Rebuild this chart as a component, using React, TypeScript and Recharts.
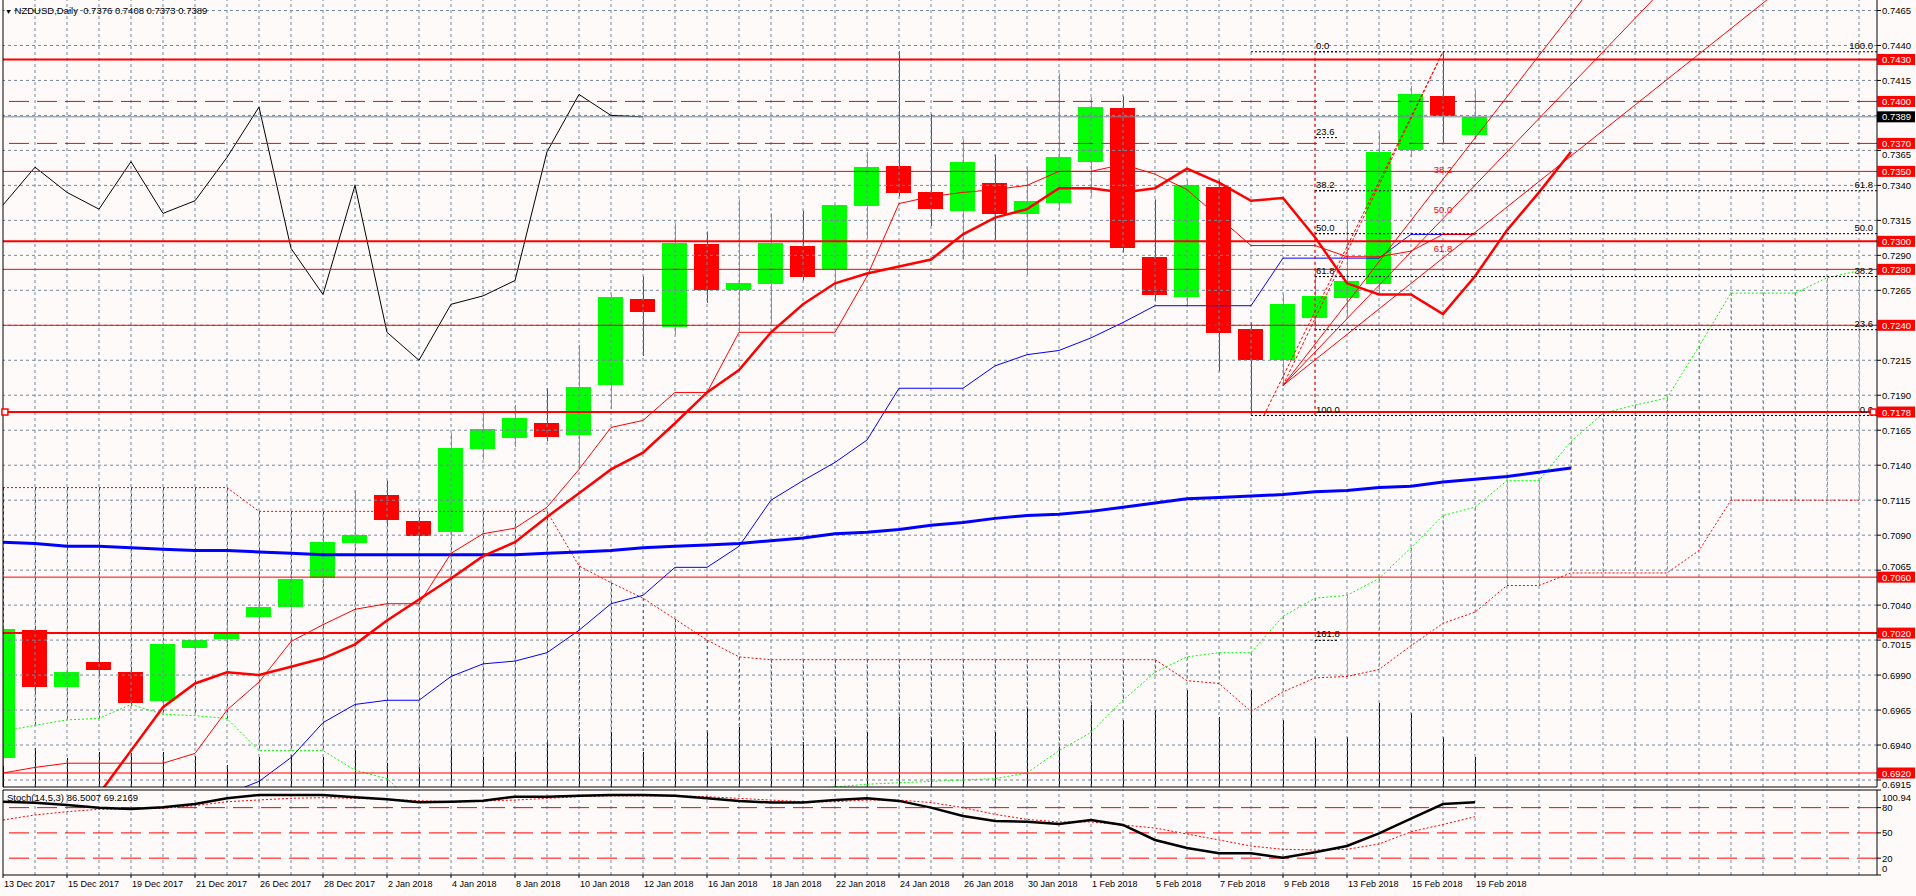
import React from 'react';
import { ComposedChart, Line, Bar, XAxis, YAxis, ReferenceLine, ReferenceDot } from 'recharts';

// ---------------- data ----------------
const dates = [
  '13 Dec 2017', '14 Dec 2017', '15 Dec 2017', '18 Dec 2017', '19 Dec 2017', '20 Dec 2017', '21 Dec 2017', '22 Dec 2017',
  '26 Dec 2017', '27 Dec 2017', '28 Dec 2017', '29 Dec 2017', '2 Jan 2018', '3 Jan 2018', '4 Jan 2018', '5 Jan 2018',
  '8 Jan 2018', '9 Jan 2018', '10 Jan 2018', '11 Jan 2018', '12 Jan 2018', '15 Jan 2018', '16 Jan 2018', '17 Jan 2018',
  '18 Jan 2018', '19 Jan 2018', '22 Jan 2018', '23 Jan 2018', '24 Jan 2018', '25 Jan 2018', '26 Jan 2018', '29 Jan 2018',
  '30 Jan 2018', '31 Jan 2018', '1 Feb 2018', '2 Feb 2018', '5 Feb 2018', '6 Feb 2018', '7 Feb 2018', '8 Feb 2018',
  '9 Feb 2018', '12 Feb 2018', '13 Feb 2018', '14 Feb 2018', '15 Feb 2018', '16 Feb 2018', '19 Feb 2018',
];

const opens = [0.6931, 0.7022, 0.6981, 0.6999, 0.6992, 0.6971, 0.7009, 0.7016, 0.7032, 0.7039, 0.7059, 0.7084, 0.7119, 0.7100, 0.7092, 0.7152, 0.7160, 0.7170, 0.7162, 0.7197, 0.7259, 0.7239, 0.7298, 0.7265, 0.7270, 0.7297, 0.7280, 0.7325, 0.7354, 0.7335, 0.7322, 0.7342, 0.7320, 0.7327, 0.7357, 0.7395, 0.7289, 0.7260, 0.7339, 0.7237, 0.7215, 0.7245, 0.7260, 0.7270, 0.7365, 0.7404, 0.7376];
const highs = [0.7025, 0.7024, 0.6995, 0.7028, 0.6996, 0.7013, 0.7017, 0.7027, 0.7041, 0.7061, 0.7088, 0.7122, 0.7129, 0.7103, 0.7163, 0.7179, 0.7183, 0.7195, 0.7226, 0.7262, 0.7275, 0.7313, 0.7307, 0.7330, 0.7320, 0.7322, 0.7326, 0.7364, 0.7436, 0.7391, 0.7373, 0.7362, 0.7353, 0.7420, 0.7403, 0.7404, 0.7330, 0.7344, 0.7344, 0.7242, 0.7262, 0.7280, 0.7314, 0.7378, 0.7411, 0.7436, 0.7408];
const lows = [0.6925, 0.6978, 0.6978, 0.6990, 0.6968, 0.6968, 0.7005, 0.7013, 0.7029, 0.7036, 0.7055, 0.7082, 0.7098, 0.7086, 0.7088, 0.7144, 0.7153, 0.7157, 0.7138, 0.7180, 0.7218, 0.7233, 0.7256, 0.7235, 0.7242, 0.7272, 0.7265, 0.7302, 0.7332, 0.7311, 0.7287, 0.7301, 0.7276, 0.7322, 0.7332, 0.7292, 0.7257, 0.7254, 0.7207, 0.7176, 0.7197, 0.7236, 0.7246, 0.7262, 0.7360, 0.7370, 0.7373];
const closes = [0.7023, 0.6981, 0.6992, 0.6993, 0.6970, 0.7012, 0.7015, 0.7020, 0.7039, 0.7059, 0.7085, 0.7090, 0.7101, 0.7089, 0.7152, 0.7166, 0.7174, 0.7160, 0.7196, 0.7260, 0.7250, 0.7299, 0.7265, 0.7270, 0.7299, 0.7275, 0.7326, 0.7353, 0.7335, 0.7323, 0.7357, 0.7320, 0.7329, 0.7360, 0.7396, 0.7295, 0.7262, 0.7340, 0.7235, 0.7215, 0.7255, 0.7261, 0.7272, 0.7364, 0.7405, 0.7390, 0.7389];

// thick red moving average (shifted forward)
const maFast = [null, null, null, 0.6905, 0.6936, 0.6967, 0.6984, 0.6992, 0.6990, 0.6996, 0.7002, 0.7012, 0.7029, 0.7044, 0.7059, 0.7075, 0.7085, 0.7103, 0.7120, 0.7137, 0.7149, 0.7170, 0.7192, 0.7208, 0.7235, 0.7255, 0.7270, 0.7277, 0.7282, 0.7287, 0.7305, 0.7317, 0.7323, 0.7338, 0.7338, 0.7335, 0.7338, 0.7352, 0.7342, 0.7329, 0.7331, 0.7303, 0.7270, 0.7262, 0.7262, 0.7248, 0.7275, 0.7308, 0.7335, 0.7364];
// thick blue moving average (shifted forward)
const maSlow = [0.7085, 0.7084, 0.7082, 0.7082, 0.7081, 0.7080, 0.7079, 0.7079, 0.7078, 0.7077, 0.7076, 0.7076, 0.7076, 0.7076, 0.7076, 0.7076, 0.7076, 0.7077, 0.7078, 0.7079, 0.7081, 0.7082, 0.7083, 0.7084, 0.7086, 0.7088, 0.7091, 0.7092, 0.7094, 0.7097, 0.7099, 0.7102, 0.7104, 0.7105, 0.7107, 0.7110, 0.7113, 0.7116, 0.7117, 0.7118, 0.7119, 0.7121, 0.7122, 0.7124, 0.7125, 0.7128, 0.7130, 0.7132, 0.7135, 0.7138];
// Ichimoku
const tenkan = [0.6920, 0.6924, 0.6927, 0.6927, 0.6927, 0.6927, 0.6934, 0.6965, 0.6985, 0.7014, 0.7026, 0.7037, 0.7041, 0.7041, 0.7077, 0.7091, 0.7095, 0.7110, 0.7137, 0.7167, 0.7172, 0.7192, 0.7192, 0.7235, 0.7235, 0.7235, 0.7235, 0.7275, 0.7327, 0.7332, 0.7335, 0.7337, 0.7340, 0.7350, 0.7350, 0.7355, 0.7348, 0.7337, 0.7317, 0.7297, 0.7297, 0.7297, 0.7289, 0.7289, 0.7293, 0.7305, 0.7305];
const kijun = [null, null, null, null, null, null, null, 0.6905, 0.6914, 0.6931, 0.6956, 0.6969, 0.6972, 0.6972, 0.6989, 0.6998, 0.7000, 0.7006, 0.7022, 0.7041, 0.7047, 0.7067, 0.7067, 0.7082, 0.7115, 0.7129, 0.7142, 0.7158, 0.7195, 0.7195, 0.7195, 0.7211, 0.7219, 0.7222, 0.7231, 0.7242, 0.7254, 0.7254, 0.7254, 0.7254, 0.7288, 0.7288, 0.7288, 0.7288, 0.7305, 0.7305, 0.7305];
const spanA = [0.6950, 0.6954, 0.6958, 0.6959, 0.6969, 0.6962, 0.6961, 0.6959, 0.6936, 0.6936, 0.6936, 0.6922, 0.6916, 0.6895, 0.6890, 0.6890, 0.6890, 0.6890, 0.6892, 0.6895, 0.6898, 0.6900, 0.6903, 0.6905, 0.6907, 0.6909, 0.6910, 0.6912, 0.6913, 0.6914, 0.6915, 0.6916, 0.6920, 0.6936, 0.6949, 0.6972, 0.6992, 0.7003, 0.7006, 0.7006, 0.7032, 0.7045, 0.7047, 0.7059, 0.7081, 0.7104, 0.7110, 0.7129, 0.7129, 0.7157, 0.7177, 0.7183, 0.7188, 0.7225, 0.7263, 0.7263, 0.7263, 0.7274, 0.7279];
const spanB = [0.7124, 0.7124, 0.7124, 0.7124, 0.7124, 0.7124, 0.7124, 0.7124, 0.7107, 0.7107, 0.7107, 0.7107, 0.7107, 0.7107, 0.7107, 0.7107, 0.7107, 0.7107, 0.7068, 0.7056, 0.7045, 0.7030, 0.7015, 0.7003, 0.7001, 0.7001, 0.7001, 0.7001, 0.7001, 0.7001, 0.7001, 0.7001, 0.7001, 0.7001, 0.7001, 0.7001, 0.7001, 0.6986, 0.6984, 0.6964, 0.6978, 0.6988, 0.6989, 0.6994, 0.7011, 0.7027, 0.7035, 0.7054, 0.7054, 0.7063, 0.7063, 0.7063, 0.7063, 0.7079, 0.7115, 0.7115, 0.7115, 0.7115, 0.7115];
const CHIKOU_SHIFT = 26;
const volumes = [135, 195, 145, 175, 170, 175, 155, 110, 150, 160, 150, 185, 120, 100, 195, 150, 175, 225, 250, 275, 175, 225, 275, 300, 200, 225, 250, 275, 350, 250, 225, 275, 395, 200, 410, 335, 385, 485, 350, 485, 335, 245, 250, 420, 370, 250, 150];
// Stochastic (14,5,3)
const stochMain = [87.0, 85.9, 83.1, 79.9, 78.4, 80.4, 84.3, 91.1, 95.0, 95.0, 95.0, 92.3, 89.9, 86.3, 87.0, 88.2, 93, 93, 94, 95, 95, 94, 91, 88, 86, 86, 89, 91, 88, 80, 70, 64, 63.3, 60.6, 65.3, 59.4, 41.6, 32, 25.8, 25.8, 20.5, 27, 34.4, 49.5, 67, 84.3, 86.5007];
const stochSignal = [65.3, 71.3, 75.2, 78, 78.4, 79.2, 82.3, 87, 89.1, 91.1, 91.8, 91.1, 89.9, 88.2, 87, 87.9, 89, 91, 93, 94, 94, 94, 93, 91, 89, 87, 87, 89, 89, 86, 80, 72, 66, 63, 63, 59.4, 55.8, 48.7, 41.6, 34.4, 30.5, 29.7, 30.5, 36.8, 51.4, 60, 69.2169];
const stochLevels = [80, 50, 20];
const stochTicks = [100.94, 80, 50, 20, 0];

// price axis
const priceTicks = [0.7465, 0.7440, 0.7415, 0.7390, 0.7365, 0.7340, 0.7315, 0.7290, 0.7265, 0.7240, 0.7215, 0.7190, 0.7165, 0.7140, 0.7115, 0.7090, 0.7065, 0.7040, 0.7015, 0.6990, 0.6965, 0.6940, 0.6915];
const hiddenTickLabels = [0.7390, 0.7240];
// horizontal level lines
const thickLevels = [0.7430, 0.7300, 0.7178, 0.7020];
const thinLevels = [0.7350, 0.7280, 0.7240, 0.7060, 0.6920];
const dashedLevels = [0.7400, 0.7370];
const currentPrice = closes[closes.length - 1];
const markedLevel = 0.7178;

// Fibonacci retracement & fan
const fibHigh = 0.74355;
const fibLow = 0.71755;
const fibRightLevels = [0, 23.6, 38.2, 50.0, 61.8, 100.0];
const fibLeftLevels = [0.0, 23.6, 38.2, 50.0, 61.8, 100.0, 161.8];
const fibLeftBar = 41;
const fibStartBar = 39;
const fanOriginBar = 40;
const fanOriginPrice = 0.7197;
const fanTopBar = 45;
const fanLevels = [38.2, 50.0, 61.8];

// ---------------- layout constants ----------------
const X_MAX = 58.5625;
const P_MIN = 0.6910;
const P_MAX = 0.74725;
const PLOT_H = 787;
const PX_PER_PRICE = PLOT_H / (P_MAX - P_MIN);
const FONT = "'Liberation Sans', Arial, sans-serif";
const GRID = '#778899';
const RED = '#ff0000';
const GREEN = '#00ff00';
const BG = '#fffafa';

const nBars = dates.length;
const rows = spanA.map((a, i) => {
  const b = spanB[i];
  const r: any = {
    i,
    spanA: a,
    spanB: b,
    cloud: [Math.min(a, b), Math.max(a, b)],
    cloudUp: a >= b,
    maFast: i < maFast.length ? maFast[i] : null,
    maSlow: i < maSlow.length ? maSlow[i] : null,
    tenkan: i < tenkan.length ? tenkan[i] : null,
    kijun: i < kijun.length ? kijun[i] : null,
    chikou: i + CHIKOU_SHIFT < nBars ? closes[i + CHIKOU_SHIFT] : null,
  };
  if (i < nBars) {
    r.candle = [lows[i], highs[i]];
    r.o = opens[i];
    r.h = highs[i];
    r.l = lows[i];
    r.c = closes[i];
    r.vol = volumes[i];
  }
  return r;
});
const stochRows = dates.map((d, i) => ({ i, date: d, k: stochMain[i], d: stochSignal[i] }));
const gridBars = Array.from({ length: Math.floor(X_MAX) }, (_, k) => k + 1);
const dateTicks = dates.map((_, i) => i).filter((i) => i % 2 === 0);

const key4 = (v: number) => v.toFixed(4);
const boxLevels = [...thickLevels, ...thinLevels, ...dashedLevels, currentPrice];
const redBoxSet = new Set([...thickLevels, ...thinLevels, ...dashedLevels].map(key4));
const axisTicks = [
  ...priceTicks.filter((t) => !hiddenTickLabels.includes(t)),
  ...thickLevels, ...thinLevels, ...dashedLevels, currentPrice,
];

// ---------------- shapes ----------------
const CandleShape = (props: any) => {
  const { x, y, width, height, payload } = props;
  if (!payload || payload.o == null || !isFinite(y) || !isFinite(height)) return null;
  const top = Math.min(y, y + height);
  const hpx = Math.abs(height);
  const { o, h, l, c } = payload;
  const k = h - l > 0 ? hpx / (h - l) : 0;
  const yO = top + (h - o) * k;
  const yC = top + (h - c) * k;
  const col = c >= o ? GREEN : RED;
  const cx = Math.round(x + width / 2) + 0.5;
  const bTop = Math.round(Math.min(yO, yC));
  const bH = Math.max(1, Math.round(Math.abs(yO - yC)));
  return (
    <g>
      <line x1={cx} x2={cx} y1={top} y2={top + hpx} stroke={col} strokeWidth={1} />
      <rect x={Math.round(x)} y={bTop} width={Math.round(width)} height={bH} fill={col} />
    </g>
  );
};

const HatchShape = (props: any) => {
  const { x, y, width, height, payload } = props;
  if (!payload || !isFinite(y) || !isFinite(height)) return null;
  const cx = Math.round(x + width / 2) + 0.5;
  const top = Math.min(y, y + height);
  return (
    <line x1={cx} x2={cx} y1={top} y2={top + Math.abs(height)} stroke={payload.cloudUp ? GREEN : RED}
      strokeWidth={1} strokeDasharray="3 3" />
  );
};

const VolShape = (props: any) => {
  const { x, y, width, height, payload } = props;
  if (!payload || payload.vol == null || !isFinite(y) || !isFinite(height)) return null;
  const cx = Math.round(x + width / 2) + 0.5;
  const top = Math.min(y, y + height);
  return <line x1={cx} x2={cx} y1={top} y2={top + Math.abs(height)} stroke="#000" strokeWidth={1} />;
};

const PriceTick = (props: any) => {
  const { x, y, payload } = props;
  const v = payload.value as number;
  const kk = key4(v);
  if (v === currentPrice || redBoxSet.has(kk)) {
    const bg = v === currentPrice ? '#000' : RED;
    return (
      <g>
        <rect x={x - 5} y={y - 5.5} width={38} height={11} fill={bg} />
        <text x={x} y={y + 3.5} fill="#fff" fontSize={9.5} fontFamily={FONT}>{kk}</text>
      </g>
    );
  }
  // keep plain tick labels clear of the level boxes that sit right next to them
  let dy = 0;
  boxLevels.forEach((b) => {
    const dpx = (b - v) * PX_PER_PRICE; // >0 : box above the tick
    if (Math.abs(dpx) < 11) dy = dpx > 0 ? 11 - dpx : -(11 + dpx);
  });
  return <text x={x} y={y + dy + 3.5} fill="#000" fontSize={9.5} fontFamily={FONT}>{kk}</text>;
};

const StochTick = (props: any) => {
  const { x, y, payload } = props;
  const v = payload.value as number;
  const dy = v === 100.94 ? 7 : v === 0 ? -7 : 0;
  return <text x={x} y={y + dy + 3.5} fill="#000" fontSize={9.5} fontFamily={FONT}>{String(v)}</text>;
};

const DateTick = (props: any) => {
  const { x, y, payload } = props;
  return <text x={x + 1} y={y + 9} fill="#000" fontSize={9} fontFamily={FONT}>{dates[payload.value]}</text>;
};

const fibPrice = (pct: number, fromTop: boolean) =>
  fromTop ? fibHigh - (pct / 100) * (fibHigh - fibLow) : fibLow + (pct / 100) * (fibHigh - fibLow);

const rightFibLabel = (text: string) => (p: any) => {
  const vb = p.viewBox || {};
  return <text x={vb.x + vb.width - 4} y={vb.y - 3} textAnchor="end" fill="#000" fontSize={9.5} fontFamily={FONT}>{text}</text>;
};
const leftFibLabel = (text: string) => (p: any) => {
  const vb = p.viewBox || {};
  return <text x={vb.x + 1} y={vb.y - 3} fill="#000" fontSize={9.5} fontFamily={FONT}>{text}</text>;
};
const fanLabel = (text: string) => (p: any) => {
  const vb = p.viewBox || {};
  const cx = vb.x + (vb.width || 0) / 2;
  const cy = vb.y + (vb.height || 0) / 2;
  return <text x={cx} y={cy - 6} textAnchor="middle" fill={RED} fontSize={9.5} fontFamily={FONT}>{text}</text>;
};
const squareMarker = (p: any) => (
  <rect x={p.cx - 3} y={p.cy - 3} width={6} height={6} fill="#fff" stroke={RED} strokeWidth={1.5} />
);

const AX = { xAxisId: 'c', yAxisId: 'p' } as const;

export default function App() {
  const fanRange = fibHigh - fanOriginPrice;
  return (
    <div style={{ position: 'absolute', left: 0, top: 0, width: 1916, height: 896, background: BG, overflow: 'hidden' }}>
      <div style={{ position: 'absolute', left: 0, top: 788 }}>
        <ComposedChart width={1916} height={108} data={stochRows} margin={{ top: 2, right: 0, bottom: 0, left: 3 }}>
          <XAxis xAxisId="c" dataKey="i" type="number" domain={[0, X_MAX]} allowDataOverflow ticks={dateTicks}
            interval={0} height={21} tick={<DateTick />} tickSize={3} tickMargin={0}
            tickLine={{ stroke: '#000' }} axisLine={{ stroke: '#000' }} />
          <YAxis yAxisId="s" orientation="right" width={39} type="number" domain={[0, 100.94]} allowDataOverflow
            ticks={stochTicks} interval={0} tick={<StochTick />} tickSize={4} tickMargin={1}
            tickLine={{ stroke: '#000' }} axisLine={{ stroke: '#000' }} />
          {gridBars.map((b) => (
            <ReferenceLine key={'sg' + b} xAxisId="c" yAxisId="s" x={b} stroke={GRID} strokeDasharray="3 3" />
          ))}
          {stochLevels.map((l) => (
            <ReferenceLine key={'sl' + l} xAxisId="c" yAxisId="s" y={l} stroke={RED} strokeDasharray="20 8" />
          ))}
          <Line xAxisId="c" yAxisId="s" dataKey="d" stroke={RED} strokeWidth={1} strokeDasharray="2 2" dot={false} isAnimationActive={false} />
          <Line xAxisId="c" yAxisId="s" dataKey="k" stroke="#000" strokeWidth={2.5} dot={false} isAnimationActive={false} />
          <ReferenceLine xAxisId="c" yAxisId="s" x={0} stroke="#000" />
          <ReferenceLine xAxisId="c" yAxisId="s" y={100.94} stroke="#000" />
        </ComposedChart>
      </div>

      <div style={{ position: 'absolute', left: 0, top: 0 }}>
        <ComposedChart width={1916} height={PLOT_H + 5} data={rows} margin={{ top: 0, right: 0, bottom: 5, left: 3 }}>
          <XAxis xAxisId="c" dataKey="i" type="number" domain={[0, X_MAX]} allowDataOverflow hide />
          <XAxis xAxisId="h" dataKey="i" type="number" domain={[0, X_MAX]} allowDataOverflow hide />
          <XAxis xAxisId="v" dataKey="i" type="number" domain={[0, X_MAX]} allowDataOverflow hide />
          <YAxis yAxisId="p" orientation="right" width={39} type="number" domain={[P_MIN, P_MAX]} allowDataOverflow
            ticks={axisTicks} interval={0} tick={<PriceTick />} tickSize={4} tickMargin={1}
            tickLine={{ stroke: '#000' }} axisLine={{ stroke: '#000' }} />
          <YAxis yAxisId="vol" type="number" domain={[0, 3935]} allowDataOverflow hide />

          {gridBars.map((b) => (
            <ReferenceLine key={'gv' + b} {...AX} x={b} stroke={GRID} strokeDasharray="3 3" />
          ))}
          {priceTicks.map((t) => (
            <ReferenceLine key={'gh' + t} {...AX} y={t} stroke={GRID} strokeDasharray="3 3" />
          ))}

          <Bar xAxisId="h" yAxisId="p" dataKey="cloud" barSize={1} shape={HatchShape} isAnimationActive={false} />
          <Bar xAxisId="v" yAxisId="vol" dataKey="vol" barSize={1} shape={VolShape} isAnimationActive={false} />

          <Line {...AX} dataKey="spanA" stroke={GREEN} strokeWidth={1} strokeDasharray="2 2" dot={false} isAnimationActive={false} />
          <Line {...AX} dataKey="spanB" stroke={RED} strokeWidth={1} strokeDasharray="2 2" dot={false} isAnimationActive={false} />
          <Line {...AX} dataKey="maSlow" stroke="#0000ff" strokeWidth={3} dot={false} isAnimationActive={false} />
          <Line {...AX} dataKey="kijun" stroke="#0000ff" strokeWidth={1} dot={false} isAnimationActive={false} />
          <Line {...AX} dataKey="tenkan" stroke={RED} strokeWidth={1} dot={false} isAnimationActive={false} />
          <Line {...AX} dataKey="chikou" stroke="#000" strokeWidth={1} dot={false} isAnimationActive={false} />
          <Line {...AX} dataKey="maFast" stroke={RED} strokeWidth={2.5} dot={false} isAnimationActive={false} />

          <Bar {...AX} dataKey="candle" barSize={25} shape={CandleShape} isAnimationActive={false} />

          <ReferenceLine {...AX} y={currentPrice} stroke={GRID} strokeWidth={1} />
          {thinLevels.map((p) => (
            <ReferenceLine key={'tl' + p} {...AX} y={p} stroke={RED} strokeWidth={1} />
          ))}
          {dashedLevels.map((p) => (
            <ReferenceLine key={'dl' + p} {...AX} y={p} stroke={RED} strokeWidth={1} strokeDasharray="20 8" />
          ))}
          {thickLevels.map((p) => (
            <ReferenceLine key={'kl' + p} {...AX} y={p} stroke={RED} strokeWidth={2} />
          ))}

          {/* Fibonacci retracement lines (right labels) */}
          {fibRightLevels.map((pct) => (
            <ReferenceLine key={'fr' + pct} {...AX}
              segment={[{ x: pct === 0 || pct === 100 ? fibStartBar : fibLeftBar, y: fibPrice(pct, false) }, { x: X_MAX, y: fibPrice(pct, false) }]}
              stroke="#000" strokeDasharray="2 2" label={rightFibLabel(pct.toFixed(1))} />
          ))}
          {fibLeftLevels.map((pct) => (
            <ReferenceLine key={'fl' + pct} {...AX}
              segment={[{ x: fibLeftBar, y: fibPrice(pct, true) }, { x: fibLeftBar + 0.7, y: fibPrice(pct, true) }]}
              stroke="#000" strokeDasharray="2 2" label={leftFibLabel(pct.toFixed(1))} />
          ))}
          <ReferenceLine {...AX} segment={[{ x: fibLeftBar, y: fibHigh }, { x: fibLeftBar, y: fibLow }]}
            stroke={RED} strokeDasharray="3 3" />

          {/* Fibonacci fan */}
          <ReferenceLine {...AX} segment={[{ x: fanOriginBar, y: fanOriginPrice }, { x: fanTopBar, y: fibHigh }]}
            stroke={RED} strokeDasharray="3 2" />
          <ReferenceLine {...AX} segment={[{ x: fibStartBar + 0.4, y: fibLow }, { x: fanTopBar, y: fibHigh }]}
            stroke={RED} strokeDasharray="3 2" />
          {fanLevels.map((pct) => {
            const pAt = fibHigh - (pct / 100) * fanRange;
            const slope = (pAt - fanOriginPrice) / (fanTopBar - fanOriginBar);
            return (
              <ReferenceLine key={'fan' + pct} {...AX} ifOverflow="hidden"
                segment={[{ x: fanOriginBar, y: fanOriginPrice }, { x: X_MAX, y: fanOriginPrice + slope * (X_MAX - fanOriginBar) }]}
                stroke={RED} strokeWidth={1} />
            );
          })}
          {fanLevels.map((pct) => (
            <ReferenceDot key={'fanl' + pct} {...AX} x={fanTopBar} y={fibHigh - (pct / 100) * fanRange} r={0}
              fill="none" stroke="none" label={fanLabel(pct.toFixed(1))} />
          ))}

          <ReferenceDot {...AX} x={0.06} y={markedLevel} r={3} shape={squareMarker} />
          <ReferenceDot {...AX} x={X_MAX - 0.12} y={markedLevel} r={3} shape={squareMarker} />

          <ReferenceLine {...AX} x={0} stroke="#000" strokeWidth={1} />
          <ReferenceLine {...AX} y={P_MIN} stroke="#000" strokeWidth={1} />
        </ComposedChart>
      </div>

      <div style={{ position: 'absolute', left: 5, top: 5, fontFamily: FONT, fontSize: 9.5, color: '#000', whiteSpace: 'pre', lineHeight: '12px' }}>
        <span style={{ fontSize: 7 }}>▼</span> NZDUSD,Daily  0.7376 0.7408 0.7373 0.7389
      </div>
      <div style={{ position: 'absolute', left: 7, top: 792, fontFamily: FONT, fontSize: 9.5, color: '#000', whiteSpace: 'pre', lineHeight: '12px' }}>
        Stoch(14,5,3) 86.5007 69.2169
      </div>
    </div>
  );
}
